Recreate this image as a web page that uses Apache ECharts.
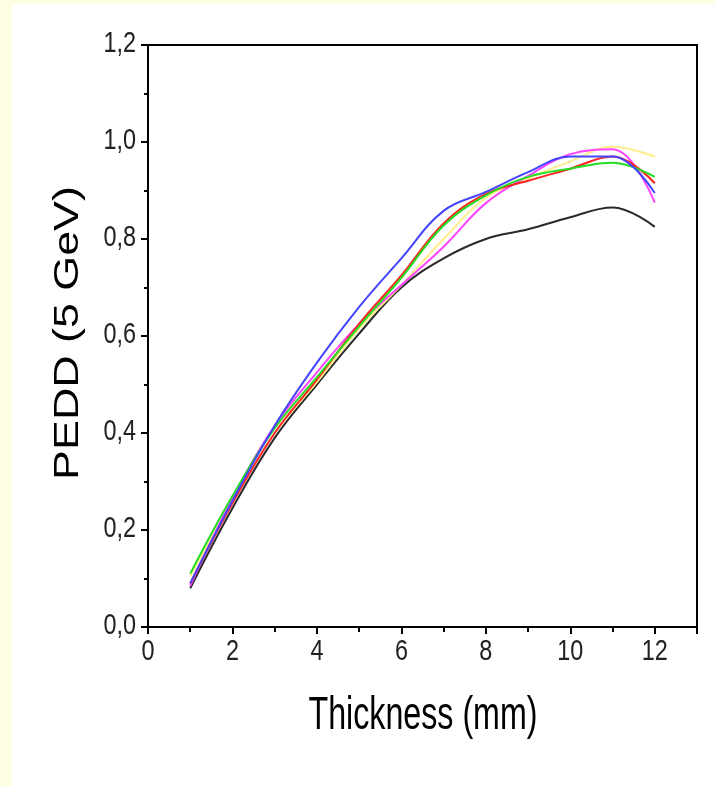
<!DOCTYPE html>
<html>
<head>
<meta charset="utf-8">
<script src="https://cdn.jsdelivr.net/npm/echarts@6/dist/echarts.min.js"></script>
<style>
html,body{margin:0;padding:0;background:#fff;}
#chart{width:715px;height:786px;}
</style>
</head>
<body>
<div id="chart"></div>
<script>
// Thickness (mm)
const thickness = [1, 2, 3, 4, 5, 6, 7, 8, 9, 10, 11, 12];
const blackVals   = [0.080, 0.245, 0.390, 0.500, 0.605, 0.700, 0.760, 0.800, 0.820, 0.845, 0.865, 0.825];
const yellowVals  = [0.105, 0.260, 0.400, 0.505, 0.615, 0.705, 0.800, 0.885, 0.925, 0.960, 0.990, 0.970];
const magentaVals = [0.085, 0.265, 0.415, 0.525, 0.625, 0.705, 0.784, 0.874, 0.930, 0.975, 0.985, 0.875];
const redVals     = [0.090, 0.255, 0.400, 0.510, 0.625, 0.725, 0.832, 0.893, 0.920, 0.945, 0.970, 0.915];
const greenVals   = [0.110, 0.270, 0.410, 0.515, 0.620, 0.720, 0.828, 0.890, 0.928, 0.945, 0.957, 0.928];
const blueVals    = [0.090, 0.260, 0.415, 0.545, 0.660, 0.760, 0.858, 0.897, 0.938, 0.970, 0.970, 0.895];
const xTickVals = [0, 2, 4, 6, 8, 10, 12];
const xTickLabels = ['0', '2', '4', '6', '8', '10', '12'];
const yTickVals = [0, 0.2, 0.4, 0.6, 0.8, 1.0, 1.2];
const yTickLabels = ['0,0', '0,2', '0,4', '0,6', '0,8', '1,0', '1,2'];
const xTitle = 'Thickness (mm)';
const yTitle = 'PEDD (5 GeV)';

const seriesDefs = [
  {name: 'black', data: blackVals, color: '#2a2a2a'},
  {name: 'yellow', data: yellowVals, color: '#ffee8a'},
  {name: 'magenta', data: magentaVals, color: '#ff44ff'},
  {name: 'red', data: redVals, color: '#ff2222'},
  {name: 'green', data: greenVals, color: '#22dd22'},
  {name: 'blue', data: blueVals, color: '#4444ff'}
];

const baseFont = "'Liberation Sans', Arial, sans-serif";
const chart = echarts.init(document.getElementById('chart'), null, {renderer: 'canvas'});
const staticGraphics = [
  {id: 'bgL', type: 'rect', left: 0, top: 0, shape: {width: 12, height: 786}, style: {fill: '#fefee2'}, silent: true},
  {id: 'bgT', type: 'rect', left: 0, top: 0, shape: {width: 715, height: 4}, style: {fill: '#fefee2'}, silent: true},
  {id: 'xt', type: 'text', x: 423, y: 716, scaleX: 0.70,
    style: {text: xTitle, font: "46px " + baseFont, fill: '#000', align: 'center', verticalAlign: 'middle'}},
  {id: 'yt', type: 'text', x: 68, y: 333, rotation: Math.PI / 2, scaleX: 1.28,
    style: {text: yTitle, font: "35px " + baseFont, fill: '#000', align: 'center', verticalAlign: 'middle'}}
];
chart.setOption({
  animation: false,
  backgroundColor: '#ffffff',
  grid: {left: 148, right: 18, top: 45, bottom: 159, show: true, borderColor: '#000', borderWidth: 2, backgroundColor: 'transparent'},
  xAxis: {
    type: 'value', min: 0, max: 13, interval: 2,
    axisLine: {show: true, onZero: false, lineStyle: {color: '#000', width: 2}},
    axisTick: {show: true, inside: false, length: 7, lineStyle: {color: '#000', width: 2}},
    minorTick: {show: true, splitNumber: 2, length: 5, lineStyle: {color: '#000', width: 2}},
    splitLine: {show: false},
    axisLabel: {show: false}
  },
  yAxis: {
    type: 'value', min: 0, max: 1.2, interval: 0.2,
    axisLine: {show: true, onZero: false, lineStyle: {color: '#000', width: 2}},
    axisTick: {show: true, inside: false, length: 7, lineStyle: {color: '#000', width: 2}},
    minorTick: {show: true, splitNumber: 2, length: 4, lineStyle: {color: '#000', width: 2}},
    splitLine: {show: false},
    axisLabel: {show: false}
  },
  series: seriesDefs.map(s => ({
    type: 'line', name: s.name, smooth: 0.4, showSymbol: false,
    data: thickness.map((x, i) => [x, s.data[i]]),
    lineStyle: {color: s.color, width: 2}, itemStyle: {color: s.color}
  })),
  graphic: staticGraphics
});

// tick labels placed through the chart's own axis scales (narrow look via horizontal scale)
const tickGraphics = [];
xTickVals.forEach((v, i) => {
  const p = chart.convertToPixel({gridIndex: 0}, [v, 0]);
  tickGraphics.push({id: 'xl' + i, type: 'text', x: p[0], y: p[1] + 10, scaleX: 0.78,
    style: {text: xTickLabels[i], font: "30px " + baseFont, fill: '#222', align: 'center', verticalAlign: 'top'}});
});
yTickVals.forEach((v, i) => {
  const p = chart.convertToPixel({gridIndex: 0}, [0, v]);
  tickGraphics.push({id: 'yl' + i, type: 'text', x: p[0] - 12, y: p[1] - 1, scaleX: 0.78,
    style: {text: yTickLabels[i], font: "30px " + baseFont, fill: '#222', align: 'right', verticalAlign: 'middle'}});
});
chart.setOption({graphic: staticGraphics.concat(tickGraphics)});
</script>
</body>
</html>
